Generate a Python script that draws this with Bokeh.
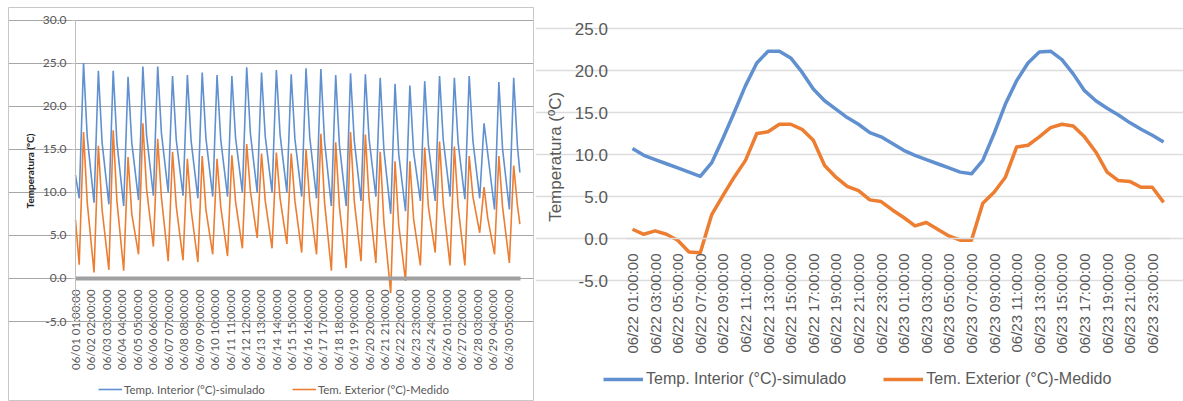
import numpy as np
from bokeh.plotting import figure
from bokeh.models import FixedTicker, NumeralTickFormatter, Legend, LegendItem
from bokeh.layouts import row
from bokeh.embed import file_html
from bokeh.resources import INLINE

# ---------------- Left chart data (June, hourly, key points per day) ----------------
month_tick_labels = [
    "06/01 01:00:00", "06/02 02:00:00", "06/03 03:00:00", "06/04 04:00:00",
    "06/05 05:00:00", "06/06 06:00:00", "06/07 07:00:00", "06/08 08:00:00",
    "06/09 09:00:00", "06/10 10:00:00", "06/11 11:00:00", "06/12 12:00:00",
    "06/13 13:00:00", "06/14 14:00:00", "06/15 15:00:00", "06/16 16:00:00",
    "06/17 17:00:00", "06/18 18:00:00", "06/19 19:00:00", "06/20 20:00:00",
    "06/21 21:00:00", "06/22 22:00:00", "06/23 23:00:00", "06/24 24:00:00",
    "06/26 01:00:00", "06/27 02:00:00", "06/28 03:00:00", "06/29 04:00:00",
    "06/30 05:00:00",
]
month_tick_step = 25  # hours between labelled categories

interior_start, exterior_start = 12.0, 6.8
interior_end, exterior_end = 12.3, 6.3

interior_min_07h = [9.3, 8.8, 8.6, 8.4, 9.1, 9.6, 10.0, 9.6, 9.3, 9.5, 9.5, 10.0, 10.0, 10.0, 10.0,
                    9.5, 9.3, 8.4, 8.4, 9.0, 9.5, 7.5, 7.8, 9.0, 9.0, 9.5, 9.2, 9.3, 8.0, 8.0]
interior_max_14h = [25.0, 24.1, 24.1, 23.4, 24.6, 24.6, 23.5, 23.6, 23.9, 23.6, 23.5, 24.5, 23.9, 24.2, 23.7,
                    24.4, 24.3, 23.6, 23.8, 23.7, 23.3, 22.6, 22.4, 22.9, 23.5, 23.3, 23.5, 18.0, 22.8, 23.3]
interior_eve_20h = [16.4, 15.8, 15.8, 15.8, 16.6, 16.9, 16.1, 16.0, 16.3, 16.1, 16.3, 16.8, 16.5, 16.7, 16.2,
                    16.4, 15.9, 15.5, 16.0, 16.2, 14.9, 14.4, 14.7, 15.5, 16.1, 15.8, 16.0, 14.5, 15.0, 15.4]

exterior_min_07h = [1.6, 0.7, 1.0, 0.9, 2.8, 3.7, 2.0, 2.1, 1.9, 2.8, 2.6, 3.5, 4.7, 3.5, 4.0,
                    3.0, 2.8, 0.9, 1.2, 2.0, 1.8, -1.7, -0.3, 1.5, 3.0, 1.5, 1.5, 5.3, 2.8, 1.8]
exterior_max_14h = [17.0, 15.4, 17.2, 14.1, 18.0, 16.2, 14.7, 13.9, 14.2, 13.9, 14.3, 15.6, 14.5, 14.6, 14.5,
                    15.0, 16.8, 15.8, 17.0, 16.7, 14.7, 13.6, 13.6, 15.2, 15.9, 15.3, 14.2, 10.6, 14.2, 13.1]
exterior_eve_20h = [8.8, 8.0, 9.0, 7.5, 10.4, 9.4, 8.4, 8.0, 8.0, 8.3, 8.9, 10.1, 9.0, 9.3, 9.0,
                    8.9, 8.8, 8.3, 9.0, 9.2, 6.5, 6.2, 6.9, 8.3, 8.7, 8.4, 9.5, 7.0, 8.3, 8.5]

# ---------------- Right chart data (06/22 - 06/23 hourly) ----------------
two_day_hours = list(range(1, 49))
two_day_tick_labels = (
    [f"06/22 {h:02d}:00:00" for h in range(1, 24, 2)]
    + [f"06/23 {h:02d}:00:00" for h in range(1, 24, 2)]
)
interior_2d = [10.7, 9.9, 9.4, 8.9, 8.4, 7.9, 7.4, 9.0, 11.9, 15.0, 18.2, 20.9, 22.3, 22.3, 21.5, 19.8,
               17.8, 16.4, 15.4, 14.4, 13.6, 12.6, 12.1, 11.3,
               10.5, 9.9, 9.4, 8.9, 8.4, 7.9, 7.7, 9.3, 12.5, 16.0, 18.8, 20.9, 22.2, 22.3, 21.3, 19.6,
               17.6, 16.4, 15.5, 14.7, 13.8, 13.0, 12.3, 11.5]
exterior_2d = [1.1, 0.5, 0.9, 0.5, -0.2, -1.6, -1.7, 2.8, 5.1, 7.3, 9.3, 12.5, 12.7, 13.6, 13.6, 13.0,
               11.7, 8.7, 7.3, 6.2, 5.7, 4.6, 4.4, 3.4,
               2.5, 1.5, 1.9, 1.1, 0.3, -0.2, -0.2, 4.2, 5.5, 7.3, 10.9, 11.1, 12.1, 13.2, 13.6, 13.4,
               12.1, 10.3, 7.9, 6.9, 6.8, 6.1, 6.1, 4.3]

legend_interior = "Temp. Interior (°C)-simulado"
legend_exterior = "Tem. Exterior (°C)-Medido"

BLUE = "#6090cf"
ORANGE = "#ed7d31"
TXT = "#595959"
H = 401


def month_series(start, mins, maxs, eves, end):
    xs, ys = [0], [start]
    for d in range(len(mins)):
        base = 24 * d
        xs += [base + 6, base + 13, base + 19]
        ys += [mins[d], maxs[d], eves[d]]
    xs.append(24 * len(mins) - 1)
    ys.append(end)
    return xs, ys


def lin_range(p0, v0, p1, v1, pmax):
    """Range so that data v0 sits at frame pixel p0 and v1 at p1; frame spans 0..pmax."""
    k = (v1 - v0) / (p1 - p0)
    return v0 - p0 * k, v0 + (pmax - p0) * k


# ================= Left figure =================
LF = "Lato"
L_W, L_BL, L_BR, TOP = 535, 8, 2, 7
l_fw, l_fh = L_W - L_BL - L_BR, H - TOP
lx0, lx1 = lin_range(75 - L_BL, 0, 520 - L_BL, 720, l_fw)
ly1, ly0 = lin_range(19.5 - TOP, 30, 321 - TOP, -5, l_fh)
pL = figure(width=L_W, height=H, x_range=(lx0, lx1), y_range=(ly0, ly1),
            output_backend="svg", toolbar_location=None,
            min_border_left=L_BL, min_border_right=L_BR, min_border_top=TOP, min_border_bottom=0)
pL.outline_line_color = "#c8c8c8"
pL.outline_line_width = 1
pL.background_fill_color = "white"
pL.border_fill_color = "white"

bx, by = month_series(interior_start, interior_min_07h, interior_max_14h, interior_eve_20h, interior_end)
ox, oy = month_series(exterior_start, exterior_min_07h, exterior_max_14h, exterior_eve_20h, exterior_end)
rbL = pL.line(bx, by, line_color=BLUE, line_width=1.6)
roL = pL.line(ox, oy, line_color=ORANGE, line_width=1.6)

pL.xaxis.fixed_location = 0
pL.xaxis.bounds = (0, 720)
pL.xaxis.ticker = FixedTicker(ticks=[i * month_tick_step for i in range(len(month_tick_labels))])
pL.xaxis.major_label_overrides = {i * month_tick_step: lab for i, lab in enumerate(month_tick_labels)}
pL.xaxis.major_label_orientation = np.pi / 2
pL.xaxis.axis_line_color = "#a0a0a0"
pL.xaxis.axis_line_width = 4
pL.xaxis.major_tick_line_color = None
pL.xaxis.minor_tick_line_color = None
pL.xaxis.major_label_standoff = 5
pL.xaxis.major_label_text_font = LF
pL.xaxis.major_label_text_font_size = "11.5px"
pL.xaxis.major_label_text_color = TXT
pL.xgrid.visible = False

yt = [-5, 0, 5, 10, 15, 20, 25, 30]
pL.yaxis.fixed_location = 0
pL.yaxis.bounds = (-5, 30)
pL.yaxis.ticker = FixedTicker(ticks=yt)
pL.ygrid.ticker = FixedTicker(ticks=yt)
pL.ygrid.bounds = (0, 720)
pL.yaxis.formatter = NumeralTickFormatter(format="0.0")
pL.yaxis.axis_line_color = "#bfbfbf"
pL.yaxis.major_tick_line_color = "#bfbfbf"
pL.yaxis.major_tick_out = 4
pL.yaxis.major_tick_in = 0
pL.yaxis.minor_tick_line_color = None
pL.yaxis.major_label_standoff = 5
pL.yaxis.major_label_text_font = LF
pL.yaxis.major_label_text_font_size = "12px"
pL.yaxis.major_label_text_color = TXT
pL.yaxis.axis_label = "Temperatura (ºC)"
pL.yaxis.axis_label_text_font = LF
pL.yaxis.axis_label_text_font_style = "bold"
pL.yaxis.axis_label_text_font_size = "10px"
pL.yaxis.axis_label_text_color = "#222222"
pL.yaxis.axis_label_standoff = 4
pL.ygrid.grid_line_color = "#a6a6a6"
pL.ygrid.grid_line_width = 1

legL = Legend(items=[LegendItem(label=legend_interior, renderers=[rbL]),
                     LegendItem(label=legend_exterior, renderers=[roL])],
              orientation="horizontal", location=(98 - L_BL, H - 396))
legL.label_text_font = LF
legL.label_text_font_size = "11.5px"
legL.label_text_color = TXT
legL.glyph_width = 24
legL.glyph_height = 14
legL.label_standoff = 2
legL.spacing = 27
legL.padding = 0
legL.margin = 0
legL.border_line_color = None
legL.background_fill_alpha = 0
pL.add_layout(legL)

# ================= Right figure =================
RF = "Liberation Sans"
R_W = 648
r_fh = H - TOP
rx0, rx1 = lin_range(632 - 535, 1, 632 - 535 + 11.3, 2, R_W)
ry1, ry0 = lin_range(28 - TOP, 25, 280 - TOP, -5, r_fh)
pR = figure(width=R_W, height=H, x_range=(rx0, rx1), y_range=(ry0, ry1),
            output_backend="svg", toolbar_location=None,
            min_border_left=0, min_border_right=0, min_border_top=TOP, min_border_bottom=0)
pR.outline_line_color = None
pR.background_fill_color = "white"
pR.border_fill_color = "white"

rbR = pR.line(two_day_hours, interior_2d, line_color=BLUE, line_width=3.5, line_join="round")
roR = pR.line(two_day_hours, exterior_2d, line_color=ORANGE, line_width=3.5, line_join="round")

tick_hours = two_day_hours[0::2]
pR.xaxis.fixed_location = 0
pR.xaxis.bounds = (0.5, 48.5)
pR.xaxis.ticker = FixedTicker(ticks=tick_hours)
pR.xaxis.major_label_overrides = {h: lab for h, lab in zip(tick_hours, two_day_tick_labels)}
pR.xaxis.major_label_orientation = np.pi / 2
pR.xaxis.axis_line_color = "#d9d9d9"
pR.xaxis.axis_line_width = 1.5
pR.xaxis.major_tick_line_color = None
pR.xaxis.minor_tick_line_color = None
pR.xaxis.major_label_standoff = 9
pR.xaxis.major_label_text_font = RF
pR.xaxis.major_label_text_font_size = "15px"
pR.xaxis.major_label_text_color = TXT
pR.xgrid.visible = False

yt2 = [-5, 0, 5, 10, 15, 20, 25]
pR.yaxis.fixed_location = 0.5
pR.yaxis.bounds = (-5, 25)
pR.yaxis.ticker = FixedTicker(ticks=yt2)
pR.ygrid.ticker = FixedTicker(ticks=yt2)
pR.ygrid.bounds = (0.5, 48.5)
pR.yaxis.formatter = NumeralTickFormatter(format="0.0")
pR.yaxis.axis_line_color = None
pR.yaxis.major_tick_line_color = None
pR.yaxis.minor_tick_line_color = None
pR.yaxis.major_label_standoff = 13
pR.yaxis.major_label_text_font = RF
pR.yaxis.major_label_text_font_size = "17px"
pR.yaxis.major_label_text_color = TXT
pR.yaxis.axis_label = "Temperatura  (ºC)"
pR.yaxis.axis_label_text_font = RF
pR.yaxis.axis_label_text_font_style = "normal"
pR.yaxis.axis_label_text_font_size = "17px"
pR.yaxis.axis_label_text_color = TXT
pR.yaxis.axis_label_standoff = 6
pR.ygrid.grid_line_color = "#dcdcdc"
pR.ygrid.grid_line_width = 1.5

legR = Legend(items=[LegendItem(label=legend_interior, renderers=[rbR]),
                     LegendItem(label=legend_exterior, renderers=[roR])],
              orientation="horizontal", location=(603 - 535, H - 388))
legR.label_text_font = RF
legR.label_text_font_size = "16px"
legR.label_text_color = TXT
legR.glyph_width = 40
legR.glyph_height = 16
legR.label_standoff = 3
legR.spacing = 37
legR.padding = 0
legR.margin = 0
legR.border_line_color = None
legR.background_fill_alpha = 0
pR.add_layout(legR)

layout = row(pL, pR, spacing=0)
open("out.html", "w").write(file_html(layout, INLINE))
